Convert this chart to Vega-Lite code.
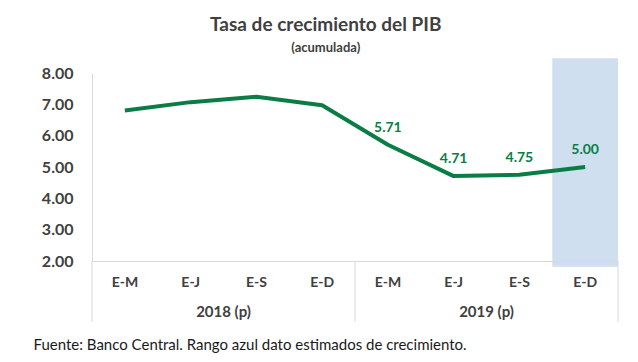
{
  "$schema": "https://vega.github.io/schema/vega-lite/v6.json",
  "width": 526,
  "height": 188,
  "autosize": {"type": "none"},
  "padding": {"left": 92, "top": 73, "right": 20, "bottom": 101},
  "background": "white",
  "config": {
    "view": {"stroke": null},
    "font": "Lato",
    "axisY": {
      "title": null,
      "values": [2, 3, 4, 5, 6, 7, 8],
      "tickCount": 7,
      "format": ".2f",
      "labelFont": "Lato",
      "labelFontSize": 16,
      "labelFontWeight": "bold",
      "labelColor": "#404040",
      "labelPadding": 19,
      "labelOverlap": false,
      "labelFlush": false,
      "ticks": false,
      "grid": false,
      "domainColor": "#d9d9d9",
      "domainWidth": 1
    }
  },
  "title": {
    "text": "Tasa de crecimiento del PIB",
    "subtitle": "(acumulada)",
    "anchor": "middle",
    "frame": "bounds",
    "font": "Lato",
    "fontSize": 19,
    "fontWeight": "bold",
    "color": "#404040",
    "subtitleFont": "Lato",
    "subtitleFontSize": 13,
    "subtitleFontWeight": "bold",
    "subtitleColor": "#404040",
    "subtitlePadding": 7,
    "offset": 3
  },
  "data": {
    "values": [
      {"key": "2018|E-M", "mes": "E-M", "anio": "2018 (p)", "valor": 6.80},
      {"key": "2018|E-J", "mes": "E-J", "anio": "2018 (p)", "valor": 7.07},
      {"key": "2018|E-S", "mes": "E-S", "anio": "2018 (p)", "valor": 7.24},
      {"key": "2018|E-D", "mes": "E-D", "anio": "2018 (p)", "valor": 6.97},
      {"key": "2019|E-M", "mes": "E-M", "anio": "2019 (p)", "valor": 5.71},
      {"key": "2019|E-J", "mes": "E-J", "anio": "2019 (p)", "valor": 4.71},
      {"key": "2019|E-S", "mes": "E-S", "anio": "2019 (p)", "valor": 4.75},
      {"key": "2019|E-D", "mes": "E-D", "anio": "2019 (p)", "valor": 5.00}
    ]
  },
  "encoding": {
    "x": {
      "field": "key",
      "type": "nominal",
      "scale": {
        "type": "band",
        "paddingInner": 0,
        "paddingOuter": 0,
        "domain": ["2018|E-M", "2018|E-J", "2018|E-S", "2018|E-D", "2019|E-M", "2019|E-J", "2019|E-S", "2019|E-D"]
      },
      "axis": {
        "title": "Fuente: Banco Central. Rango azul dato estimados de crecimiento.",
        "titleFont": "Lato",
        "titleFontSize": 15,
        "titleFontWeight": "normal",
        "titleColor": "#1a1a1a",
        "titleX": -59,
        "titleY": 76,
        "titleAlign": "left",
        "titleBaseline": "top",
        "titleAnchor": "start",
        "labelExpr": "split(datum.value, '|')[1]",
        "labelAngle": 0,
        "labelFont": "Lato",
        "labelFontSize": 14,
        "labelFontWeight": "bold",
        "labelColor": "#404040",
        "labelPadding": 14,
        "ticks": false,
        "domainColor": "#d9d9d9",
        "domainWidth": 1
      }
    }
  },
  "layer": [
    {
      "transform": [{"filter": "datum.key == '2019|E-D'"}],
      "mark": {"type": "rect", "color": "#cfdfef"},
      "encoding": {
        "y": {"datum": 1.82, "type": "quantitative", "scale": {"domain": [2, 8], "nice": false, "zero": false}},
        "y2": {"datum": 8.47}
      }
    },
    {
      "transform": [{"filter": "datum.mes == 'E-M'"}],
      "mark": {"type": "rule", "color": "#d9d9d9", "strokeWidth": 1},
      "encoding": {
        "x": {"field": "key", "type": "nominal", "bandPosition": 0},
        "y": {"datum": 2, "type": "quantitative"},
        "y2": {"datum": 0.06}
      }
    },
    {
      "transform": [{"filter": "datum.key == '2019|E-D'"}],
      "mark": {"type": "rule", "color": "#d9d9d9", "strokeWidth": 1},
      "encoding": {
        "x": {"field": "key", "type": "nominal", "bandPosition": 1},
        "y": {"datum": 2, "type": "quantitative"},
        "y2": {"datum": 0.06}
      }
    },
    {
      "transform": [{"filter": "datum.mes == 'E-J'"}],
      "mark": {"type": "text", "font": "Lato", "fontSize": 15, "fontWeight": "bold", "color": "#404040", "baseline": "middle", "dy": 51},
      "encoding": {
        "x": {"field": "key", "type": "nominal", "bandPosition": 1},
        "y": {"datum": 2, "type": "quantitative"},
        "text": {"field": "anio"}
      }
    },
    {
      "mark": {"type": "line", "color": "#0a7d45", "strokeWidth": 4, "strokeJoin": "round"},
      "encoding": {
        "y": {"field": "valor", "type": "quantitative"}
      }
    },
    {
      "transform": [{"filter": "datum.anio == '2019 (p)'"}],
      "mark": {"type": "text", "font": "Lato", "fontSize": 14, "fontWeight": "bold", "color": "#0a7d45", "baseline": "middle", "dy": -17},
      "encoding": {
        "y": {"field": "valor", "type": "quantitative"},
        "text": {"field": "valor", "type": "quantitative", "format": ".2f"}
      }
    }
  ]
}
